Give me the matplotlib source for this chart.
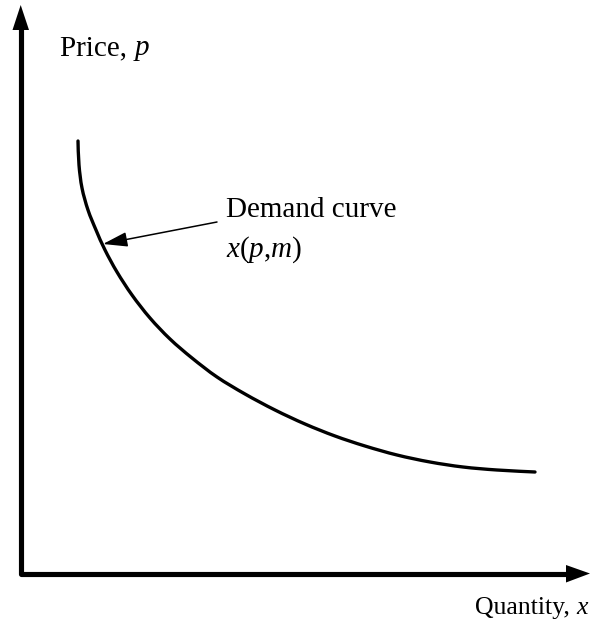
import matplotlib
matplotlib.use("Agg")
import matplotlib.pyplot as plt
import numpy as np
from matplotlib.patches import Polygon, PathPatch
from matplotlib.path import Path

plt.rcParams["mathtext.fontset"] = "custom"
plt.rcParams["mathtext.rm"] = "Liberation Serif"
plt.rcParams["mathtext.it"] = "Liberation Serif:italic"

# Demand curve points (pixel-like coordinates)
curve_x = [78, 79, 82, 88, 96, 105, 117, 132, 150, 170, 192, 217, 245, 275, 305, 335,
           365, 397, 430, 463, 497, 535]
curve_y = [141, 165, 188, 210, 230, 250, 272, 295, 318, 339, 358, 377, 394, 410, 424, 436,
           446, 455, 462, 467, 470, 472]

y_label = "Price, "
y_sym = "p"
x_label = "Quantity, "
x_sym = "x"
curve_label = "Demand curve"
curve_func = "$x$(${p}$,${m}$)"

W, H = 592, 623
fig = plt.figure(figsize=(W / 100, H / 100), dpi=100)
ax = fig.add_axes([0, 0, 1, 1])
ax.set_xlim(0, W)
ax.set_ylim(H, 0)
ax.axis("off")

serif = "Liberation Serif"

# axes
ax.plot([20.7, 20.7, 568], [28, 573.5, 573.5], color="black", lw=3.7,
        solid_joinstyle="round", solid_capstyle="butt")
ax.add_patch(Polygon([[12.5, 30], [29, 30], [20.7, 5]], closed=True, color="black", lw=0))
ax.add_patch(Polygon([[566, 565], [566, 582.5], [590, 573.5]], closed=True, color="black", lw=0))

# demand curve: smooth path through the read points (Catmull-Rom -> cubic Bezier)
P = np.column_stack([curve_x, curve_y]).astype(float)
verts = [P[0]]
codes = [Path.MOVETO]
for i in range(len(P) - 1):
    p0 = P[i - 1] if i > 0 else P[i]
    p1 = P[i]
    p2 = P[i + 1]
    p3 = P[i + 2] if i + 2 < len(P) else P[i + 1]
    c1 = p1 + (p2 - p0) / 6.0
    c2 = p2 - (p3 - p1) / 6.0
    verts += [c1, c2, p2]
    codes += [Path.CURVE4] * 3
ax.add_patch(PathPatch(Path(verts, codes), facecolor="none", edgecolor="black",
                       lw=2.4, capstyle="round"))

# arrow pointing to curve
ax.annotate("", xy=(103, 244), xytext=(217, 222),
            arrowprops=dict(arrowstyle="-|>,head_length=1.5,head_width=0.45",
                            color="black", lw=1.1, shrinkA=0, shrinkB=0))

fs = 21
fig.canvas.draw()
r = fig.canvas.get_renderer()

def right_of(txt):
    bb = txt.get_window_extent(renderer=r)
    return ax.transData.inverted().transform((bb.x1, bb.y0))[0]

t = ax.text(60, 55, y_label, fontsize=fs, family=serif, ha="left", va="baseline")
fig.canvas.draw()
ax.text(right_of(t), 55, y_sym, fontsize=fs, family=serif, style="italic",
        ha="left", va="baseline")

ax.text(226, 217, curve_label, fontsize=fs, family=serif, ha="left", va="baseline")
ax.text(226, 257, curve_func, fontsize=fs, family=serif, ha="left", va="baseline")

fq = 18.5
tq = ax.text(0, 614, x_label, fontsize=fq, family=serif, ha="left", va="baseline")
fig.canvas.draw()
xq = right_of(tq)
tx = ax.text(xq, 614, x_sym, fontsize=fq, family=serif, style="italic",
             ha="left", va="baseline")
fig.canvas.draw()
shift = 588 - right_of(tx)
tq.set_x(tq.get_position()[0] + shift)
tx.set_x(xq + shift)

fig.savefig("out.png", dpi=100)
